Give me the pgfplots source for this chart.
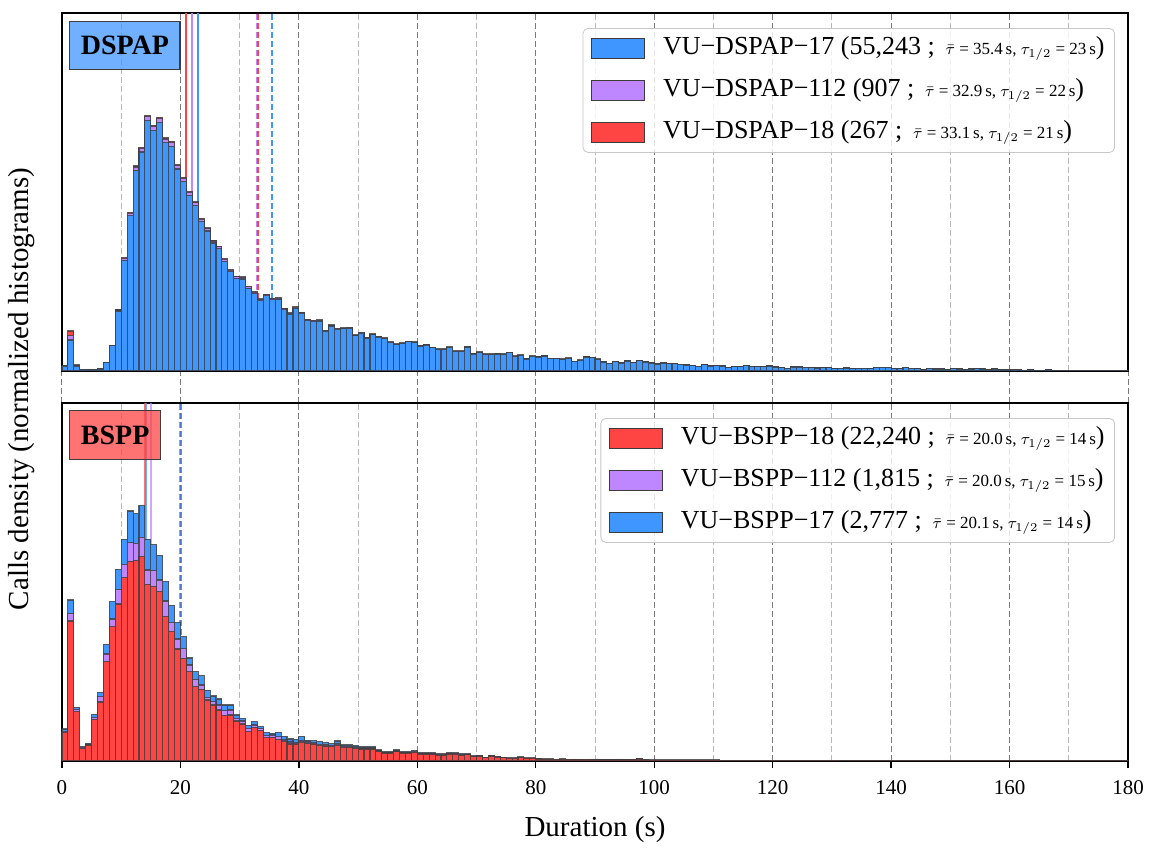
\documentclass[border=0pt]{standalone}
\usepackage{fontspec}
\setmainfont{Liberation Serif}
\usepackage{pgfplots}
\usepackage{pgfplotstable}
\pgfplotsset{compat=1.18}

\definecolor{cblue}{RGB}{64,150,255}
\definecolor{cpurple}{RGB}{190,135,255}
\definecolor{cred}{RGB}{255,68,68}
\definecolor{edgec}{RGB}{60,60,60}
\newcommand{\sm}[1]{{\fontsize{8.5}{10}\selectfont #1}}

% top panel: b = blue top, p = purple top (blue+purple), t = total (with red)
\pgfplotstableread{
x b p t
0.5 4.9 5.0 5.0
1.5 31.0 35.3 40.0
2.5 4.5 5.3 6.0
3.5 1.6 1.7 1.7
4.5 1.0 1.0 1.0
5.5 0.9 1.0 1.0
6.5 1.9 2.0 2.0
7.5 8.5 8.7 8.7
8.5 25.2 25.6 25.7
9.5 60.0 61.0 61.3
10.5 110.9 112.7 113.3
11.5 155.4 157.9 158.7
12.5 200.7 204.0 205.0
13.5 219.0 222.6 223.7
14.5 250.5 254.5 255.7
15.5 240.5 244.5 245.7
16.5 248.4 252.4 253.7
17.5 228.1 231.8 233.0
18.5 224.9 228.5 229.7
19.5 202.0 205.3 206.3
20.5 189.6 192.7 193.7
21.5 175.9 178.8 179.7
22.5 165.5 168.2 169.0
23.5 149.5 151.9 152.7
24.5 140.0 142.3 143.0
25.5 128.0 130.0 130.7
26.5 122.1 124.1 124.7
27.5 109.9 111.7 112.3
28.5 99.2 100.8 101.3
29.5 92.7 94.2 94.7
30.5 92.0 93.5 94.0
31.5 82.9 84.3 84.7
32.5 77.6 78.9 79.3
33.5 70.5 71.6 72.0
34.5 75.1 76.3 76.7
35.5 71.2 72.3 72.7
36.5 71.8 72.9 73.3
37.5 61.2 62.2 62.5
38.5 56.8 57.7 58.0
39.5 62.9 63.9 64.2
40.5 57.2 58.1 58.4
41.5 50.5 51.3 51.6
42.5 49.7 50.5 50.8
43.5 49.9 50.7 51.0
44.5 39.8 40.5 40.7
45.5 45.0 45.8 46.0
46.5 41.8 42.5 42.7
47.5 42.1 42.8 43.0
48.5 42.8 43.5 43.7
49.5 35.2 35.8 36.0
50.5 37.9 38.5 38.7
51.5 32.6 33.1 33.3
52.5 36.2 36.8 37.0
53.5 33.6 34.1 34.3
54.5 32.3 32.8 33.0
55.5 28.4 28.9 29.0
56.5 26.4 26.9 27.0
57.5 27.4 27.9 28.0
58.5 29.1 29.6 29.7
59.5 28.4 28.9 29.0
60.5 24.8 25.2 25.3
61.5 25.7 26.2 26.3
62.5 23.2 23.6 23.7
63.5 21.5 21.9 22.0
64.5 21.5 21.9 22.0
65.5 23.5 23.9 24.0
66.5 19.6 19.9 20.0
67.5 19.6 19.9 20.0
68.5 23.8 24.2 24.3
69.5 16.9 17.2 17.3
70.5 18.6 18.9 19.0
71.5 16.6 16.9 17.0
72.5 16.6 16.9 17.0
73.5 16.9 17.2 17.3
74.5 16.6 16.9 17.0
75.5 18.3 18.6 18.7
76.5 14.7 14.9 15.0
77.5 15.7 15.9 16.0
78.5 12.0 12.2 12.3
79.5 14.7 14.9 15.0
80.5 14.0 14.2 14.3
81.5 15.0 15.2 15.3
82.5 12.4 12.6 12.7
83.5 12.4 12.6 12.7
84.5 11.7 11.9 12.0
85.5 12.7 12.9 13.0
86.5 9.5 9.6 9.7
87.5 10.8 10.9 11.0
88.5 14.0 14.2 14.3
89.5 13.4 13.6 13.7
90.5 11.7 11.9 12.0
91.5 8.8 9.0 9.0
92.5 7.5 7.7 7.7
93.5 9.1 9.3 9.3
94.5 7.8 8.0 8.0
95.5 9.8 10.0 10.0
96.5 8.1 8.3 8.3
97.5 10.1 10.3 10.3
98.5 8.8 9.0 9.0
99.5 7.8 8.0 8.0
100.5 6.9 7.0 7.0
101.5 7.8 8.0 8.0
102.5 7.1 7.3 7.3
103.5 7.1 7.3 7.3
104.5 6.6 6.7 6.7
105.5 5.9 6.0 6.0
106.5 5.4 5.5 5.5
107.5 4.7 4.8 4.8
108.5 6.2 6.3 6.3
109.5 4.9 5.0 5.0
110.5 5.2 5.3 5.3
111.5 4.9 5.0 5.0
112.5 3.2 3.3 3.3
113.5 4.2 4.3 4.3
114.5 4.2 4.3 4.3
115.5 5.2 5.3 5.3
116.5 4.2 4.3 4.3
117.5 4.2 4.3 4.3
118.5 4.2 4.3 4.3
119.5 4.9 5.0 5.0
120.5 3.9 4.0 4.0
121.5 3.2 3.3 3.3
122.5 2.6 2.7 2.7
123.5 3.9 4.0 4.0
124.5 3.9 4.0 4.0
125.5 3.6 3.7 3.7
126.5 3.2 3.3 3.3
127.5 2.9 3.0 3.0
128.5 3.2 3.3 3.3
129.5 3.2 3.3 3.3
130.5 2.2 2.3 2.3
131.5 2.6 2.7 2.7
132.5 2.9 3.0 3.0
133.5 2.2 2.3 2.3
134.5 2.6 2.7 2.7
135.5 2.6 2.7 2.7
136.5 2.2 2.3 2.3
137.5 3.6 3.7 3.7
138.5 3.6 3.7 3.7
139.5 3.6 3.7 3.7
140.5 2.2 2.3 2.3
141.5 2.2 2.3 2.3
142.5 3.6 3.7 3.7
143.5 2.6 2.7 2.7
144.5 2.2 2.3 2.3
145.5 1.2 1.3 1.3
146.5 2.6 2.7 2.7
147.5 1.9 2.0 2.0
148.5 1.9 2.0 2.0
149.5 1.2 1.3 1.3
150.5 2.2 2.3 2.3
151.5 1.9 2.0 2.0
152.5 1.2 1.3 1.3
153.5 1.9 2.0 2.0
154.5 2.2 2.3 2.3
155.5 1.9 2.0 2.0
156.5 1.2 1.3 1.3
157.5 1.9 2.0 2.0
158.5 1.2 1.3 1.3
159.5 0.9 1.0 1.0
160.5 0.9 1.0 1.0
161.5 0.9 1.0 1.0
162.5 0.6 0.7 0.7
163.5 1.2 1.3 1.3
164.5 0.6 0.7 0.7
165.5 0.6 0.7 0.7
166.5 1.2 1.3 1.3
167.5 0.4 0.5 0.5
168.5 0.4 0.5 0.5
169.5 0.4 0.5 0.5
170.5 0.4 0.5 0.5
171.5 0.4 0.5 0.5
172.5 0.4 0.5 0.5
173.5 0.4 0.5 0.5
174.5 0.4 0.5 0.5
175.5 0.4 0.5 0.5
176.5 0.4 0.5 0.5
177.5 0.4 0.5 0.5
178.5 0.4 0.5 0.5
179.5 0.4 0.5 0.5
}\toptab

% bottom panel: r = red top, p = purple top (red+purple), t = total (with blue)
\pgfplotstableread{
x r p t
0.5 28.7 29.7 32.0
1.5 140.0 147.7 161.0
2.5 49.3 51.7 53.7
3.5 12.7 13.3 14.3
4.5 16.0 16.7 17.7
5.5 41.7 43.7 46.3
6.5 59.0 64.3 68.7
7.5 99.3 107.0 116.7
8.5 134.3 142.0 159.3
9.5 157.0 171.7 191.7
10.5 183.3 196.7 221.7
11.5 199.7 218.7 250.0
12.5 200.3 217.7 247.3
13.5 204.3 223.7 255.3
14.5 176.7 191.0 221.7
15.5 174.3 190.3 216.3
16.5 169.3 181.0 205.7
17.5 144.7 160.0 179.3
18.5 129.3 138.7 155.7
19.5 112.0 122.0 138.7
20.5 102.7 112.7 124.3
21.5 89.3 96.0 103.0
22.5 74.3 81.7 89.3
23.5 71.7 76.0 85.3
24.5 61.0 63.3 70.7
25.5 56.0 59.3 65.0
26.5 51.0 56.0 62.0
27.5 45.3 50.3 56.0
28.5 46.0 51.0 56.0
29.5 40.0 42.7 46.0
30.5 37.0 40.0 42.7
31.5 29.7 32.7 35.7
32.5 33.7 36.0 39.3
33.5 30.3 32.7 34.3
34.5 23.3 25.3 28.3
35.5 23.7 26.0 27.7
36.5 21.7 24.3 28.7
37.5 19.3 21.0 24.5
38.5 17.0 19.0 22.0
39.5 17.0 18.5 21.5
40.5 18.3 20.0 24.5
41.5 17.7 19.0 20.8
42.5 17.0 18.3 20.3
43.5 15.5 16.8 19.4
44.5 15.0 16.2 18.4
45.5 14.5 15.5 17.4
46.5 15.7 17.0 20.0
47.5 13.5 14.5 16.0
48.5 13.5 14.5 16.0
49.5 12.5 13.5 15.0
50.5 12.0 13.0 14.4
51.5 12.0 13.0 14.4
52.5 12.0 13.0 14.4
53.5 9.2 10.0 11.0
54.5 8.0 8.6 9.4
55.5 8.0 8.6 9.4
56.5 9.2 10.0 11.0
57.5 8.0 8.6 9.4
58.5 8.0 8.6 9.4
59.5 8.8 9.5 10.4
60.5 7.0 7.6 8.4
61.5 7.0 7.6 8.4
62.5 7.0 7.6 8.4
63.5 5.9 6.4 7.0
64.5 5.9 6.4 7.0
65.5 7.0 7.6 8.4
66.5 6.7 7.3 8.0
67.5 5.9 6.4 7.0
68.5 6.2 6.7 7.4
69.5 4.2 4.5 5.0
70.5 4.8 5.2 5.7
71.5 3.1 3.4 3.7
72.5 4.8 5.2 5.7
73.5 3.9 4.3 4.7
74.5 3.1 3.4 3.7
75.5 2.5 2.7 3.0
76.5 2.5 2.7 3.0
77.5 3.4 3.7 4.0
78.5 2.5 2.7 3.0
79.5 2.5 2.7 3.0
80.5 2.0 2.2 2.4
81.5 1.7 1.8 2.0
82.5 1.7 1.8 2.0
83.5 1.5 1.6 1.8
84.5 1.7 1.8 2.0
85.5 1.5 1.6 1.8
86.5 1.3 1.4 1.5
87.5 1.3 1.4 1.5
88.5 1.5 1.6 1.7
89.5 1.3 1.4 1.5
90.5 1.1 1.2 1.3
91.5 1.3 1.4 1.5
92.5 1.1 1.2 1.3
93.5 1.3 1.4 1.5
94.5 1.1 1.2 1.3
95.5 1.1 1.2 1.3
96.5 1.3 1.4 1.5
97.5 1.9 2.0 2.1
98.5 0.9 1.0 1.1
99.5 0.8 0.9 1.0
100.5 0.8 0.9 1.0
101.5 0.8 0.9 1.0
102.5 0.8 0.9 1.0
103.5 0.8 0.9 1.0
104.5 0.8 0.9 1.0
105.5 0.8 0.9 1.0
106.5 0.8 0.9 1.0
107.5 0.8 0.9 1.0
108.5 0.8 0.9 1.0
109.5 0.8 0.9 1.0
110.5 0.8 0.9 1.0
111.5 0.5 0.6 0.7
112.5 0.5 0.6 0.7
113.5 0.5 0.6 0.7
114.5 0.5 0.6 0.7
115.5 0.5 0.6 0.7
116.5 0.5 0.6 0.7
117.5 0.5 0.6 0.7
118.5 0.5 0.6 0.7
119.5 0.5 0.6 0.7
120.5 0.5 0.6 0.7
121.5 0.5 0.6 0.7
122.5 0.5 0.6 0.7
123.5 0.5 0.6 0.7
124.5 0.5 0.6 0.7
125.5 0.5 0.6 0.7
126.5 0.5 0.6 0.7
127.5 0.5 0.6 0.7
128.5 0.5 0.6 0.7
129.5 0.5 0.6 0.7
130.5 0.5 0.6 0.7
131.5 0.3 0.35 0.4
132.5 0.3 0.35 0.4
133.5 0.3 0.35 0.4
134.5 0.3 0.35 0.4
135.5 0.3 0.35 0.4
136.5 0.3 0.35 0.4
137.5 0.3 0.35 0.4
138.5 0.3 0.35 0.4
139.5 0.3 0.35 0.4
140.5 0.3 0.35 0.4
141.5 0.3 0.35 0.4
142.5 0.3 0.35 0.4
143.5 0.3 0.35 0.4
144.5 0.3 0.35 0.4
145.5 0.3 0.35 0.4
146.5 0.3 0.35 0.4
147.5 0.3 0.35 0.4
148.5 0.3 0.35 0.4
149.5 0.3 0.35 0.4
150.5 0.3 0.35 0.4
151.5 0.3 0.35 0.4
152.5 0.3 0.35 0.4
153.5 0.3 0.35 0.4
154.5 0.3 0.35 0.4
155.5 0.3 0.35 0.4
156.5 0.3 0.35 0.4
157.5 0.3 0.35 0.4
158.5 0.3 0.35 0.4
159.5 0.3 0.35 0.4
160.5 0.3 0.35 0.4
161.5 0.3 0.35 0.4
162.5 0.3 0.35 0.4
163.5 0.3 0.35 0.4
164.5 0.3 0.35 0.4
165.5 0.3 0.35 0.4
166.5 0.3 0.35 0.4
167.5 0.3 0.35 0.4
168.5 0.3 0.35 0.4
169.5 0.3 0.35 0.4
170.5 0.3 0.35 0.4
171.5 0.3 0.35 0.4
172.5 0.3 0.35 0.4
173.5 0.3 0.35 0.4
174.5 0.3 0.35 0.4
175.5 0.3 0.35 0.4
176.5 0.3 0.35 0.4
177.5 0.3 0.35 0.4
178.5 0.3 0.35 0.4
179.5 0.3 0.35 0.4
}\bottab

\pgfplotsset{
  panel/.style={
    scale only axis, width=533pt, height=179pt,
    xmin=0, xmax=180, ymin=0, ymax=358,
    ytick=\empty,
    xtick={0,20,...,180}, minor xtick={10,30,...,170},
    grid=both,
    major grid style={dash pattern=on 3pt off 1.5pt, black!52, line width=0.5pt},
    minor grid style={dash pattern=on 3pt off 1.5pt, black!28, line width=0.5pt},
    axis line style={line width=0.7pt},
    minor tick length=0pt,
    tick align=outside,
    xtick pos=left,
    /pgf/number format/assume math mode=true,
    xticklabel style={font=\fontsize{10.5}{12}\selectfont, yshift=-2.5pt},
    legend image code/.code={\draw[#1, line width=0.5pt, sharp corners, fill opacity=1] (0pt,-5pt) rectangle (26.5pt,5pt);},
    legend cell align=left,
    legend style={at={(0.9878,0.958)}, anchor=north east,
      draw=black!22, rounded corners=2.5pt, fill=white, fill opacity=0.8, text opacity=1,
      inner xsep=4pt, inner ysep=3pt, row sep=7pt, column sep=8pt,
      font=\fontsize{13}{15}\selectfont,
      nodes={inner sep=1pt, text height=9pt, text depth=3pt}},
  },
  bars/.style={ybar, bar width=1, bar shift=0pt, draw=edgec, draw opacity=0.8, line width=0.55pt, forget plot},
  vline/.style={no marks, line width=1pt, forget plot},
}

\begin{document}
\begin{tikzpicture}
\useasboundingbox (-31pt,-45pt) rectangle (545pt,380.5pt);

% ---------------- top panel ----------------
\begin{axis}[panel, at={(0pt,195pt)}, anchor=south west,
  xticklabels={},
  major tick length=16pt,
  xtick style={dash pattern=on 3pt off 1.5pt, black!52, line width=0.5pt},
]
\addplot[vline, cred] coordinates {(21,0) (21,358)};
\addplot[vline, cpurple] coordinates {(22,0) (22,358)};
\addplot[vline, cblue] coordinates {(23,0) (23,358)};
\addplot[vline, cpurple, dash pattern=on 3pt off 1.5pt] coordinates {(32.9,0) (32.9,358)};
\addplot[vline, cred, dash pattern=on 3pt off 1.5pt] coordinates {(33.1,0) (33.1,358)};
\addplot[vline, cblue, dash pattern=on 3pt off 1.5pt] coordinates {(35.4,0) (35.4,358)};

\addplot[bars, fill=cred] table[x=x, y=t] {\toptab};
\addplot[bars, fill=cpurple] table[x=x, y=p] {\toptab};
\addplot[bars, fill=cblue] table[x=x, y=b] {\toptab};

\addlegendimage{fill=cblue, draw=edgec}
\addlegendentry{VU−DSPAP−17 (55,243 ;\, \sm{$\bar{\tau}$ = 35.4\,s, $\tau_{1/2}$ = 23\,s})}
\addlegendimage{fill=cpurple, draw=edgec}
\addlegendentry{VU−DSPAP−112 (907 ;\, \sm{$\bar{\tau}$ = 32.9\,s, $\tau_{1/2}$ = 22\,s})}
\addlegendimage{fill=cred, draw=edgec}
\addlegendentry{VU−DSPAP−18 (267 ;\, \sm{$\bar{\tau}$ = 33.1\,s, $\tau_{1/2}$ = 21\,s})}

\node[anchor=north west, fill=cblue, fill opacity=0.75, text opacity=1,
  draw=edgec, line width=0.6pt, font=\fontsize{14}{16}\selectfont\bfseries,
  inner xsep=5.5pt, inner ysep=7.5pt, text height=9.3pt, text depth=0pt]
  at (rel axis cs:0,1) [xshift=3.65pt, yshift=-3.85pt] {DSPAP};
\end{axis}

% ---------------- bottom panel ----------------
\begin{axis}[panel, at={(0pt,0pt)}, anchor=south west,
  major tick length=3.5pt,
  xtick style={black, line width=0.7pt},
]
\addplot[vline, cred, opacity=0.75] coordinates {(14,0) (14,358)};
\addplot[vline, cpurple, opacity=0.75] coordinates {(15,0) (15,358)};
\addplot[vline, cblue, opacity=0.75] coordinates {(14.1,0) (14.1,358)};
\addplot[vline, cred, opacity=0.8, dash pattern=on 3pt off 1.5pt] coordinates {(20.0,0) (20.0,358)};
\addplot[vline, cpurple, opacity=0.8, dash pattern=on 3pt off 1.5pt] coordinates {(20.0,0) (20.0,358)};
\addplot[vline, cblue!80!black, opacity=0.8, dash pattern=on 3pt off 1.5pt] coordinates {(20.1,0) (20.1,358)};

\addplot[bars, fill=cblue] table[x=x, y=t] {\bottab};
\addplot[bars, fill=cpurple] table[x=x, y=p] {\bottab};
\addplot[bars, fill=cred] table[x=x, y=r] {\bottab};

\addlegendimage{fill=cred, draw=edgec}
\addlegendentry{VU−BSPP−18 (22,240 ;\, \sm{$\bar{\tau}$ = 20.0\,s, $\tau_{1/2}$ = 14\,s})}
\addlegendimage{fill=cpurple, draw=edgec}
\addlegendentry{VU−BSPP−112 (1,815 ;\, \sm{$\bar{\tau}$ = 20.0\,s, $\tau_{1/2}$ = 15\,s})}
\addlegendimage{fill=cblue, draw=edgec}
\addlegendentry{VU−BSPP−17 (2,777 ;\, \sm{$\bar{\tau}$ = 20.1\,s, $\tau_{1/2}$ = 14\,s})}

\node[anchor=north west, fill=cred, fill opacity=0.75, text opacity=1,
  draw=edgec, line width=0.6pt, font=\fontsize{14}{16}\selectfont\bfseries,
  inner xsep=5.5pt, inner ysep=7.5pt, text height=9.3pt, text depth=0pt]
  at (rel axis cs:0,1) [xshift=3.65pt, yshift=-3.5pt] {BSPP};
\end{axis}

\node[rotate=90, font=\fontsize{14.5}{17}\selectfont] at (-20pt,186pt) {Calls density (normalized histograms)};
\node[font=\fontsize{14.5}{17}\selectfont] at (266.5pt,-34.5pt) {Duration (s)};
\end{tikzpicture}
\end{document}
